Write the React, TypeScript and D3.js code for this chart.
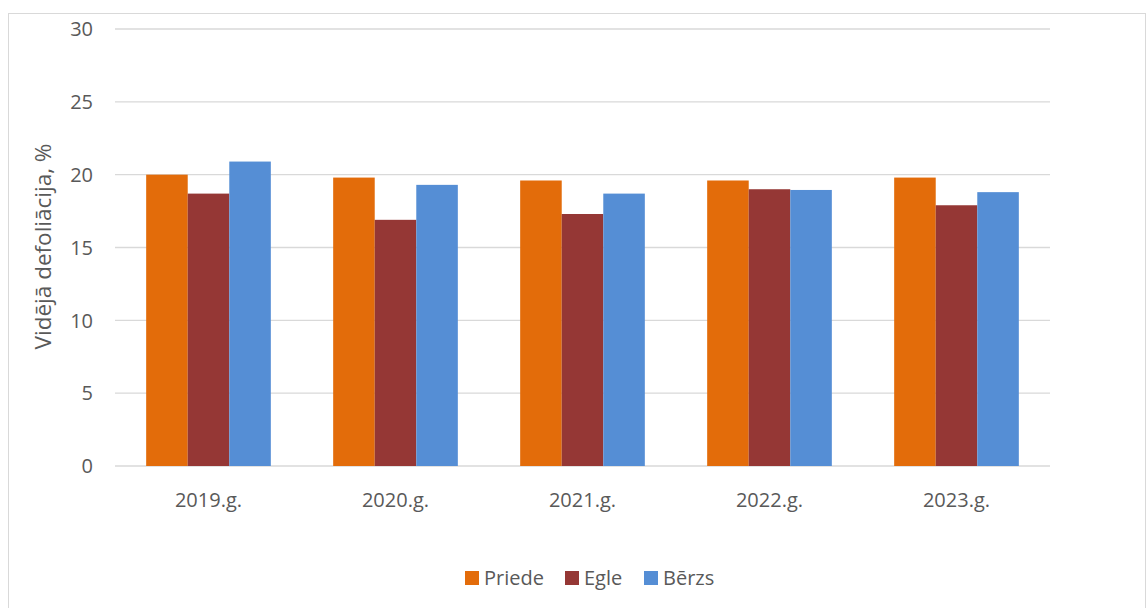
import React from "react";
import * as d3 from "d3";

const categories = ["2019.g.", "2020.g.", "2021.g.", "2022.g.", "2023.g."];
const seriesNames = ["Priede", "Egle", "Bērzs"];
const priede = [20.0, 19.8, 19.6, 19.6, 19.8];
const egle = [18.7, 16.9, 17.3, 19.0, 17.9];
const berzs = [20.9, 19.3, 18.7, 18.95, 18.8];
const yTicks = [0, 5, 10, 15, 20, 25, 30];
const colors = ["#E36C0A", "#953735", "#558ED5"];

const W = 1147;
const H = 608;
const FONT = "'Open Sans', sans-serif";
const TEXT = "#595959";

export default function App() {
  const values = [priede, egle, berzs];
  const plotLeft = 115;
  const plotRight = 1050;
  const plotTop = 29;
  const plotBottom = 466;

  const x0 = d3.scaleBand().domain(categories).range([plotLeft, plotRight]).paddingInner(0).paddingOuter(0);
  const bw = x0.bandwidth();
  const groupW = bw / (1 + 1.5 / 3);
  const barW = groupW / 3;
  const x1 = d3.scaleBand().domain(seriesNames).range([0, groupW]).padding(0);
  const y = d3.scaleLinear().domain([0, 30]).range([plotBottom, plotTop]);

  const legendX = [465, 565, 644];

  return (
    <svg width={W} height={H} style={{ position: "absolute", left: 0, top: 0, display: "block" }}>
      <rect x={0} y={0} width={W} height={H} fill="#fff" />
      <rect x={8.5} y={13.5} width={1137} height={620} fill="none" stroke="#D9D9D9" strokeWidth={1} />
      {yTicks.map((t) => (
        <g key={t}>
          <line x1={plotLeft} x2={plotRight} y1={y(t)} y2={y(t)} stroke="#D9D9D9" strokeWidth={t === 0 ? 1.5 : 1.3} />
          <text x={93} y={y(t)} dy="0.36em" textAnchor="end" fontFamily={FONT} fontSize={20} fill={TEXT}>
            {t}
          </text>
        </g>
      ))}
      {categories.map((c, i) => {
        const gx = (x0(c) as number) + (bw - groupW) / 2;
        return (
          <g key={c}>
            {seriesNames.map((s, j) => (
              <rect
                key={s}
                x={gx + (x1(s) as number)}
                y={y(values[j][i])}
                width={barW}
                height={y(0) - y(values[j][i])}
                fill={colors[j]}
              />
            ))}
            <text x={(x0(c) as number) + bw / 2} y={500} dy="0.36em" textAnchor="middle" fontFamily={FONT} fontSize={20} fill={TEXT}>
              {c}
            </text>
          </g>
        );
      })}
      <text
        transform={`translate(43, 246.5) rotate(-90)`}
        textAnchor="middle"
        dy="0.36em"
        fontFamily={FONT}
        fontSize={22.5}
        fill={TEXT}
      >
        Vidējā defoliācija, %
      </text>
      {seriesNames.map((s, j) => (
        <g key={s}>
          <rect x={legendX[j]} y={571} width={14} height={14} fill={colors[j]} />
          <text x={legendX[j] + 19} y={578} dy="0.36em" fontFamily={FONT} fontSize={20} fill={TEXT}>
            {s}
          </text>
        </g>
      ))}
    </svg>
  );
}
